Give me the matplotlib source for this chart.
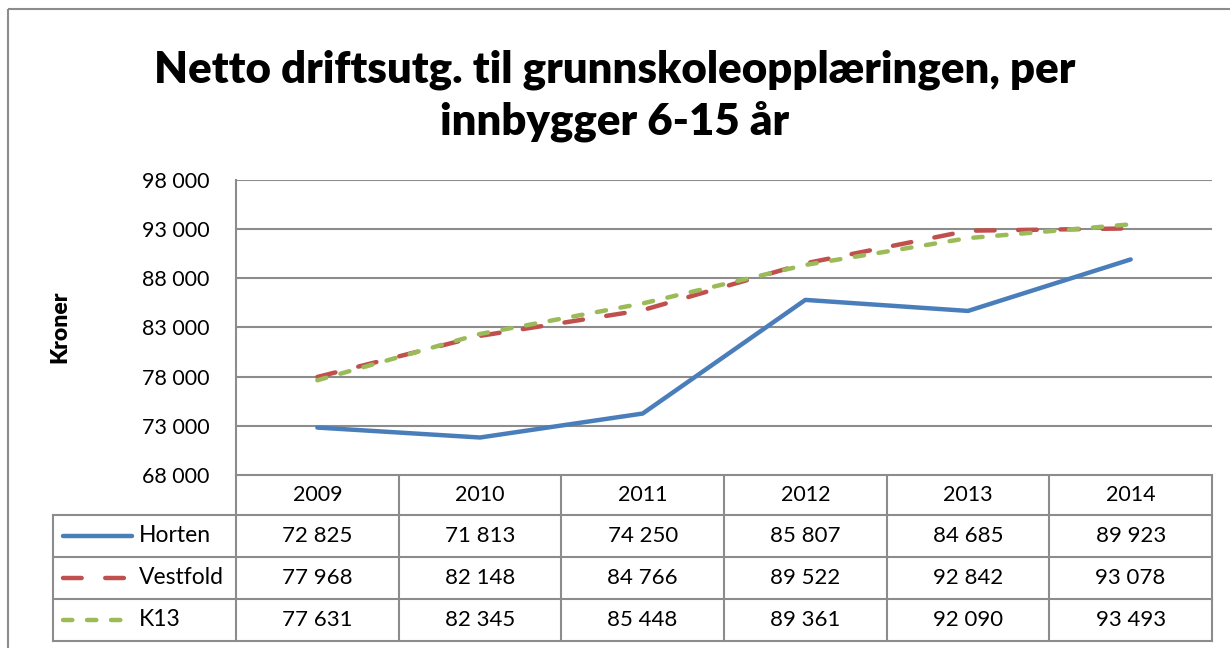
import matplotlib
matplotlib.use("Agg")
import matplotlib.pyplot as plt
from matplotlib.lines import Line2D
from matplotlib.patches import Rectangle

years = ["2009", "2010", "2011", "2012", "2013", "2014"]
horten = [72825, 71813, 74250, 85807, 84685, 89923]
vestfold = [77968, 82148, 84766, 89522, 92842, 93078]
k13 = [77631, 82345, 85448, 89361, 92090, 93493]
series_names = ["Horten", "Vestfold", "K13"]
y_ticks = [68000, 73000, 78000, 83000, 88000, 93000, 98000]
title = "Netto driftsutg. til grunnskoleopplæringen, per\ninnbygger 6-15 år"
ylabel = "Kroner"

def fmt(v):
    return f"{v:,}".replace(",", " ")

W, H = 1230, 648
fig = plt.figure(figsize=(W / 100, H / 100), dpi=100)
FONT = "Lato"
GRID = "#8c8c8c"
FS = 15.5

styles = [
    dict(color="#4a7ebb", lw=3.2, ls="-", solid_capstyle="round"),
    dict(color="#c0504d", lw=3.2, ls=(0, (4.2, 5.3)), dash_capstyle="round"),
    dict(color="#9bbb59", lw=3.2, ls=(0, (2.1, 3.3)), dash_capstyle="round"),
]
data = [horten, vestfold, k13]

# background overlay axes in pixel coordinates
bg = fig.add_axes([0, 0, 1, 1])
bg.set_xlim(0, W)
bg.set_ylim(H, 0)
bg.axis("off")
bg.add_patch(Rectangle((8, 9), W + 20, H + 20, fill=False, ec="#8c8c8c", lw=1.5))

# plot area
px0, px1, py0, py1 = 236, 1212, 180, 475
ax = fig.add_axes([px0 / W, 1 - py1 / H, (px1 - px0) / W, (py1 - py0) / H])
x = list(range(len(years)))
for vals, st in zip(data, styles):
    ax.plot(x, vals, **st, zorder=3)
ax.set_xlim(-0.5, len(years) - 0.5)
ax.set_ylim(y_ticks[0], y_ticks[-1])
ax.set_yticks(y_ticks)
ax.set_yticklabels([fmt(v) for v in y_ticks], fontsize=FS, fontfamily=FONT)
ax.set_xticks([])
ax.tick_params(axis="y", length=0, pad=19)
ax.grid(axis="y", color=GRID, lw=1.5)
for s in ["top", "right", "bottom"]:
    ax.spines[s].set_visible(False)
ax.spines["left"].set_color(GRID)
ax.spines["left"].set_linewidth(1.5)

bg.text(60, 327, ylabel, rotation=90, ha="center", va="center", fontsize=16.5,
        fontweight="heavy", fontfamily=FONT)

fig.text(0.5, 1 - 96 / H, title, ha="center", va="center", fontsize=31.5,
         fontweight="heavy", fontfamily=FONT, linespacing=1.3)

# data table
col_w = (px1 - px0) / len(years)
row_top = [475, 515, 557, 599]
row_bot = 641
lx0 = 53
lc = dict(color=GRID, lw=1.5)
bg.plot([px0, px1], [row_top[0], row_top[0]], **lc)
for i in range(len(years) + 1):
    bg.plot([px0 + i * col_w] * 2, [row_top[0], row_bot], **lc)
for i, yr in enumerate(years):
    bg.text(px0 + (i + 0.5) * col_w, (row_top[0] + row_top[1]) / 2, yr,
            ha="center", va="center", fontsize=FS, fontfamily=FONT)
rows_y = row_top[1:] + [row_bot]
for y in rows_y:
    bg.plot([lx0, px1], [y, y], **lc)
bg.plot([lx0, lx0], [row_top[1], row_bot], **lc)
for r, (name, vals, st) in enumerate(zip(series_names, data, styles)):
    yc = (rows_y[r] + rows_y[r + 1]) / 2
    bg.add_line(Line2D([63, 132], [yc, yc], **st))
    bg.text(139, yc, name, ha="left", va="center", fontsize=16.5, fontfamily=FONT)
    for i, v in enumerate(vals):
        bg.text(px0 + (i + 0.5) * col_w, yc, fmt(v), ha="center", va="center",
                fontsize=16, fontfamily=FONT)

fig.savefig("out.png", dpi=100)
